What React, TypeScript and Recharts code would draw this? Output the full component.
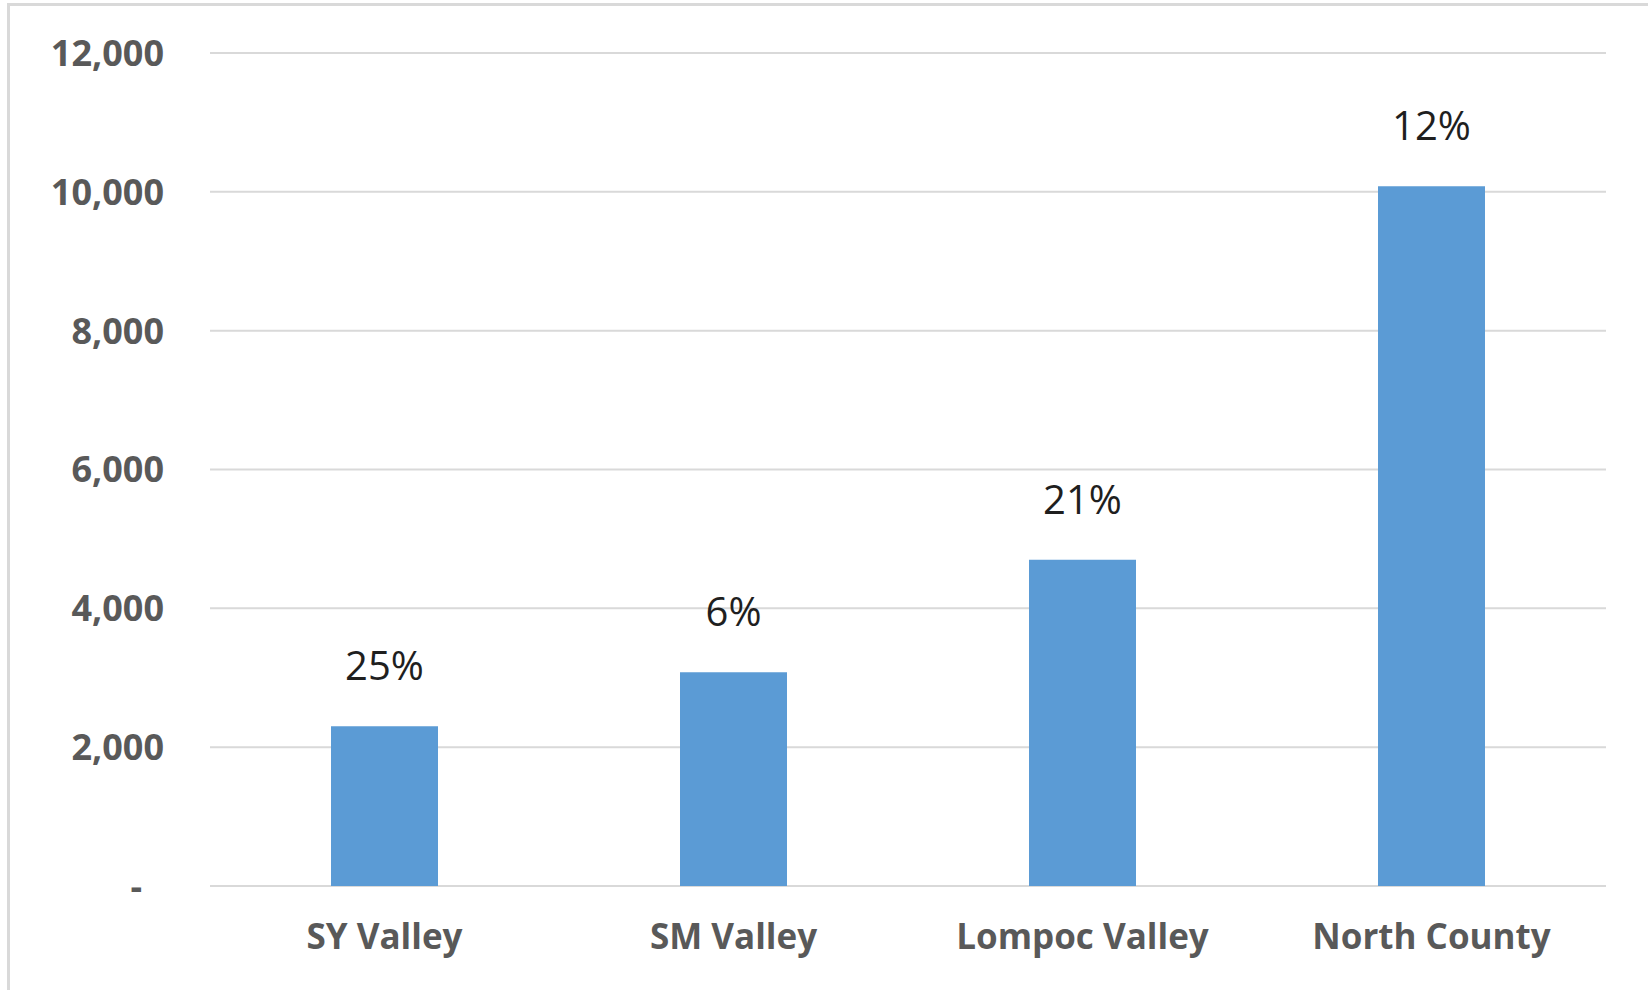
import React from 'react';
import { BarChart, Bar, XAxis, YAxis, CartesianGrid, LabelList } from 'recharts';

const regions = ['SY Valley', 'SM Valley', 'Lompoc Valley', 'North County'];
const counts = [2300, 3080, 4700, 10080];
const shares = ['25%', '6%', '21%', '12%'];
const yTicks = [0, 2000, 4000, 6000, 8000, 10000, 12000];

const data = regions.map((region, i) => ({ region, count: counts[i], share: shares[i] }));

const axisFont = {
  fill: '#595959',
  fontSize: 36,
  fontWeight: 700,
  fontFamily: '"Open Sans", sans-serif',
};

const YTick = ({ x, y, payload }: any) => {
  const isZero = payload.value === 0;
  return (
    <text
      x={isZero ? x - 22 : x}
      y={y}
      dy="0.36em"
      textAnchor="end"
      {...axisFont}
    >
      {isZero ? '-' : payload.value.toLocaleString('en-US')}
    </text>
  );
};

const ShareLabel = ({ x, y, width, value }: any) => (
  <text
    x={x + width / 2}
    y={y - 46}
    textAnchor="middle"
    fill="#1f1f1f"
    fontSize={40}
    fontFamily='"Open Sans", sans-serif'
  >
    {value}
  </text>
);

const App: React.FC = () => {
  return (
    <div
      style={{
        position: 'fixed',
        left: 0,
        top: 0,
        width: 1648,
        height: 990,
        overflow: 'hidden',
        background: '#fff',
      }}
    >
      <div
        style={{
          position: 'absolute',
          left: 7,
          top: 3,
          width: 1700,
          height: 1100,
          borderLeft: '3px solid #d9d9d9',
          borderTop: '3px solid #d9d9d9',
        }}
      />
      <div style={{ position: 'absolute', left: 0, top: 0 }}>
        <BarChart
          width={1648}
          height={990}
          data={data}
          margin={{ top: 53, right: 42, bottom: 44, left: 0 }}
        >
          <CartesianGrid vertical={false} stroke="#d9d9d9" strokeWidth={2} />
          <XAxis
            dataKey="region"
            axisLine={false}
            tickLine={false}
            tickSize={0}
            tickMargin={38}
            height={60}
            interval={0}
            tick={{ ...axisFont, fontSize: 35 }}
          />
          <YAxis
            domain={[0, 12000]}
            ticks={yTicks}
            axisLine={false}
            tickLine={false}
            tickSize={0}
            tickMargin={46}
            width={210}
            tick={<YTick />}
          />
          <Bar dataKey="count" fill="#5b9bd5" barSize={107} isAnimationActive={false}>
            <LabelList dataKey="share" content={<ShareLabel />} />
          </Bar>
        </BarChart>
      </div>
    </div>
  );
};

export default App;
